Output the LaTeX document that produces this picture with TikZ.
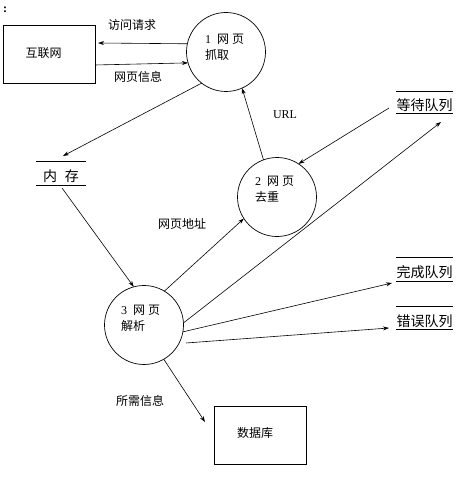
\documentclass[tikz,border=0pt]{standalone}
\usepackage{fontspec}
\setmainfont{Liberation Serif}
\newfontfamily\cjk{Noto Sans CJK SC}
\usetikzlibrary{arrows.meta,calc}
\begin{document}
\begin{tikzpicture}[x=1pt,y=-1pt,
  every node/.style={font=\fontsize{12}{16}\selectfont\cjk, inner sep=0pt, outer sep=0pt},
  proc/.style={draw, circle, minimum size=79pt, line width=0.7pt},
  ent/.style={draw, rectangle, line width=0.8pt},
  flow/.style={-{Stealth[length=6pt,width=4pt]}, line width=0.6pt},
  ptxt/.style={anchor=west, align=left},
  stxt/.style={font=\fontsize{14}{16}\selectfont\cjk},
  storeline/.style={line width=0.8pt}]
\useasboundingbox (0,0) rectangle (472,478);

% colon mark
\node (colon) at (5,10) {\rmfamily\bfseries :};

% external entities
\node[ent, minimum width=92pt, minimum height=58pt] (net) at (49,54) {};
\node (netT) at (43.5,53) {互联网};
\node[ent, minimum width=92pt, minimum height=58pt] (db) at (260,435) {};
\node (dbT) at (255,433) {数据库};

% processes
\node[proc] (c1) at (226,52) {};
\node[ptxt] (c1T) at (205,47) {{\rmfamily 1}\hspace{6pt}网\hspace{3pt}页\\抓取};
\node[proc] (c2) at (277,197) {};
\node[ptxt] (c2T) at (255,189.5) {{\rmfamily 2}\hspace{6pt}网\hspace{3pt}页\\去重};
\node[proc] (c3) at (144,325) {};
\node[ptxt] (c3T) at (121,318.5) {{\rmfamily 3}\hspace{6pt}网\hspace{3pt}页\\解析};

% data stores
\node[stxt] (mem) at (61,176) {内\hspace{8pt}存};
\draw[storeline] (36,161) coordinate (memTL) -- (86,161) coordinate (memTR);
\draw[storeline] (36,185) coordinate (memBL) -- (86,185) coordinate (memBR);

\node[stxt] (wait) at (424.5,105) {等待队列};
\draw[storeline] (396,91) coordinate (waitTL) -- (453,91);
\draw[storeline] (396,113) -- (453,113);
\node[stxt] (done) at (424.5,272) {完成队列};
\draw[storeline] (396,257) -- (453,257);
\draw[storeline] (396,281) -- (453,281);
\node[stxt] (err) at (424.5,321) {错误队列};
\draw[storeline] (396,306) -- (453,306);
\draw[storeline] (396,329) -- (453,329);

% free ends
\coordinate (memIn) at (63,156);
\coordinate (memOut) at (62,188);
\coordinate (waitIn) at (441,122);
\coordinate (waitOut) at (389,108);
\coordinate (doneIn) at (392,283);
\coordinate (errIn) at (389,328);
\coordinate (dbIn) at (205,422);
\coordinate (errOut) at (186,343);

% flows
\draw[flow] (c1.168) -- (98,43) coordinate (netIn);
\draw[flow] (net.east |- 0,65) -- (c1.196);
\draw[flow] (c1.232) -- (memIn);
\draw[flow] (c2.110) -- (c1.294);
\draw[flow] (waitOut) -- (c2.57);
\draw[flow] (memOut) -- (c3.105);
\draw[flow] (c3.59) -- (c2.213);
\draw[flow] (c3.3) -- (waitIn);
\draw[flow] (c3.-10) -- (doneIn);
\draw[flow] (errOut) -- (errIn);
\draw[flow] (c3.300) -- (dbIn);

% labels
\node (l1) at (132,25) {访问请求};
\node (l2) at (138,77) {网页信息};
\node (l3) at (285,115) {\rmfamily URL};
\node (l4) at (182,224) {网页地址};
\node (l5) at (140,401) {所需信息};
\end{tikzpicture}
\end{document}
